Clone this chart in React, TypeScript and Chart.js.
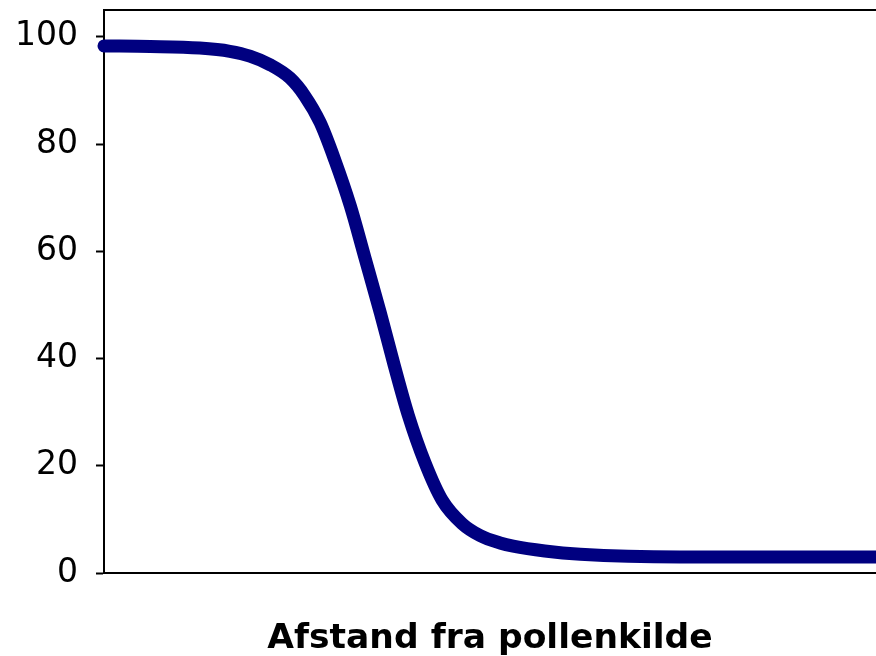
import React, { useEffect, useRef } from "react";
import { Chart, registerables } from "chart.js";

Chart.register(...registerables);

const distance = [0, 6.0, 12.4, 16.3, 18.9, 21.5, 24.1, 26.0, 28.0, 29.9, 31.9, 33.8, 35.8, 37.6, 39.4, 41.6, 43.8, 46.4, 48.7, 51.3, 53.0, 57.1, 61.7, 74.6, 100];
const percent = [98.3, 98.2, 97.9, 97.3, 96.4, 94.8, 92.3, 89.0, 84.0, 77.0, 68.5, 58.8, 48.5, 38.7, 29.5, 20.5, 13.6, 9.2, 7.0, 5.6, 5.0, 4.1, 3.5, 3.0, 3.0];
const yTicks = [0, 20, 40, 60, 80, 100];
const xTitle = "Afstand fra pollenkilde";

const topBorder = {
  id: "topBorder",
  afterDraw(chart: any) {
    const { ctx, chartArea } = chart;
    ctx.save();
    ctx.strokeStyle = "#000";
    ctx.lineWidth = 2;
    ctx.beginPath();
    ctx.moveTo(chartArea.left, chartArea.top);
    ctx.lineTo(chartArea.right, chartArea.top);
    ctx.stroke();
    ctx.restore();
  },
};

export default function App() {
  const ref = useRef<HTMLCanvasElement | null>(null);
  useEffect(() => {
    if (!ref.current) return;
    const chart = new Chart(ref.current, {
      type: "line",
      data: {
        datasets: [
          {
            data: distance.map((d, i) => ({ x: d, y: percent[i] })),
            borderColor: "#000080",
            borderWidth: 13,
            borderCapStyle: "round",
            borderJoinStyle: "round",
            pointRadius: 0,
            cubicInterpolationMode: "monotone",
            fill: false,
            clip: false,
          } as any,
        ],
      },
      options: {
        animation: false,
        responsive: false,
        maintainAspectRatio: false,
        layout: { padding: { top: 10, right: 0, left: 0, bottom: 0 } },
        plugins: { legend: { display: false }, tooltip: { enabled: false } },
        scales: {
          x: {
            type: "linear",
            min: 0,
            max: 100,
            grid: { display: false },
            border: { display: true, color: "#000", width: 2 },
            ticks: { display: false },
            title: {
              display: true,
              text: xTitle,
              color: "#000",
              font: { family: "DejaVu Sans", size: 34.5, weight: "bold", lineHeight: 1 },
              padding: { top: 40, bottom: 0 },
            },
            afterFit: (s: any) => {
              s.height = 83;
              s.paddingLeft = 0;
              s.paddingRight = 0;
            },
          },
          y: {
            min: 0,
            max: 105,
            afterBuildTicks: (s: any) => {
              s.ticks = yTicks.map((v) => ({ value: v }));
            },
            grid: {
              display: true,
              drawOnChartArea: false,
              drawTicks: true,
              tickLength: 8,
              tickWidth: 2,
              tickColor: "#000",
            },
            border: { display: true, color: "#000", width: 2 },
            ticks: {
              color: "#000",
              padding: 18,
              font: { family: "DejaVu Sans", size: 33 },
            },
            afterFit: (s: any) => {
              s.width = 104;
              s.paddingTop = 0;
              s.paddingBottom = 0;
            },
          },
        },
      },
      plugins: [topBorder],
    });
    return () => chart.destroy();
  }, []);
  return (
    <div style={{ position: "fixed", left: 0, top: 0, width: 876, height: 656, background: "#fff" }}>
      <canvas ref={ref} width={876} height={656} style={{ width: 876, height: 656, display: "block" }} />
    </div>
  );
}
